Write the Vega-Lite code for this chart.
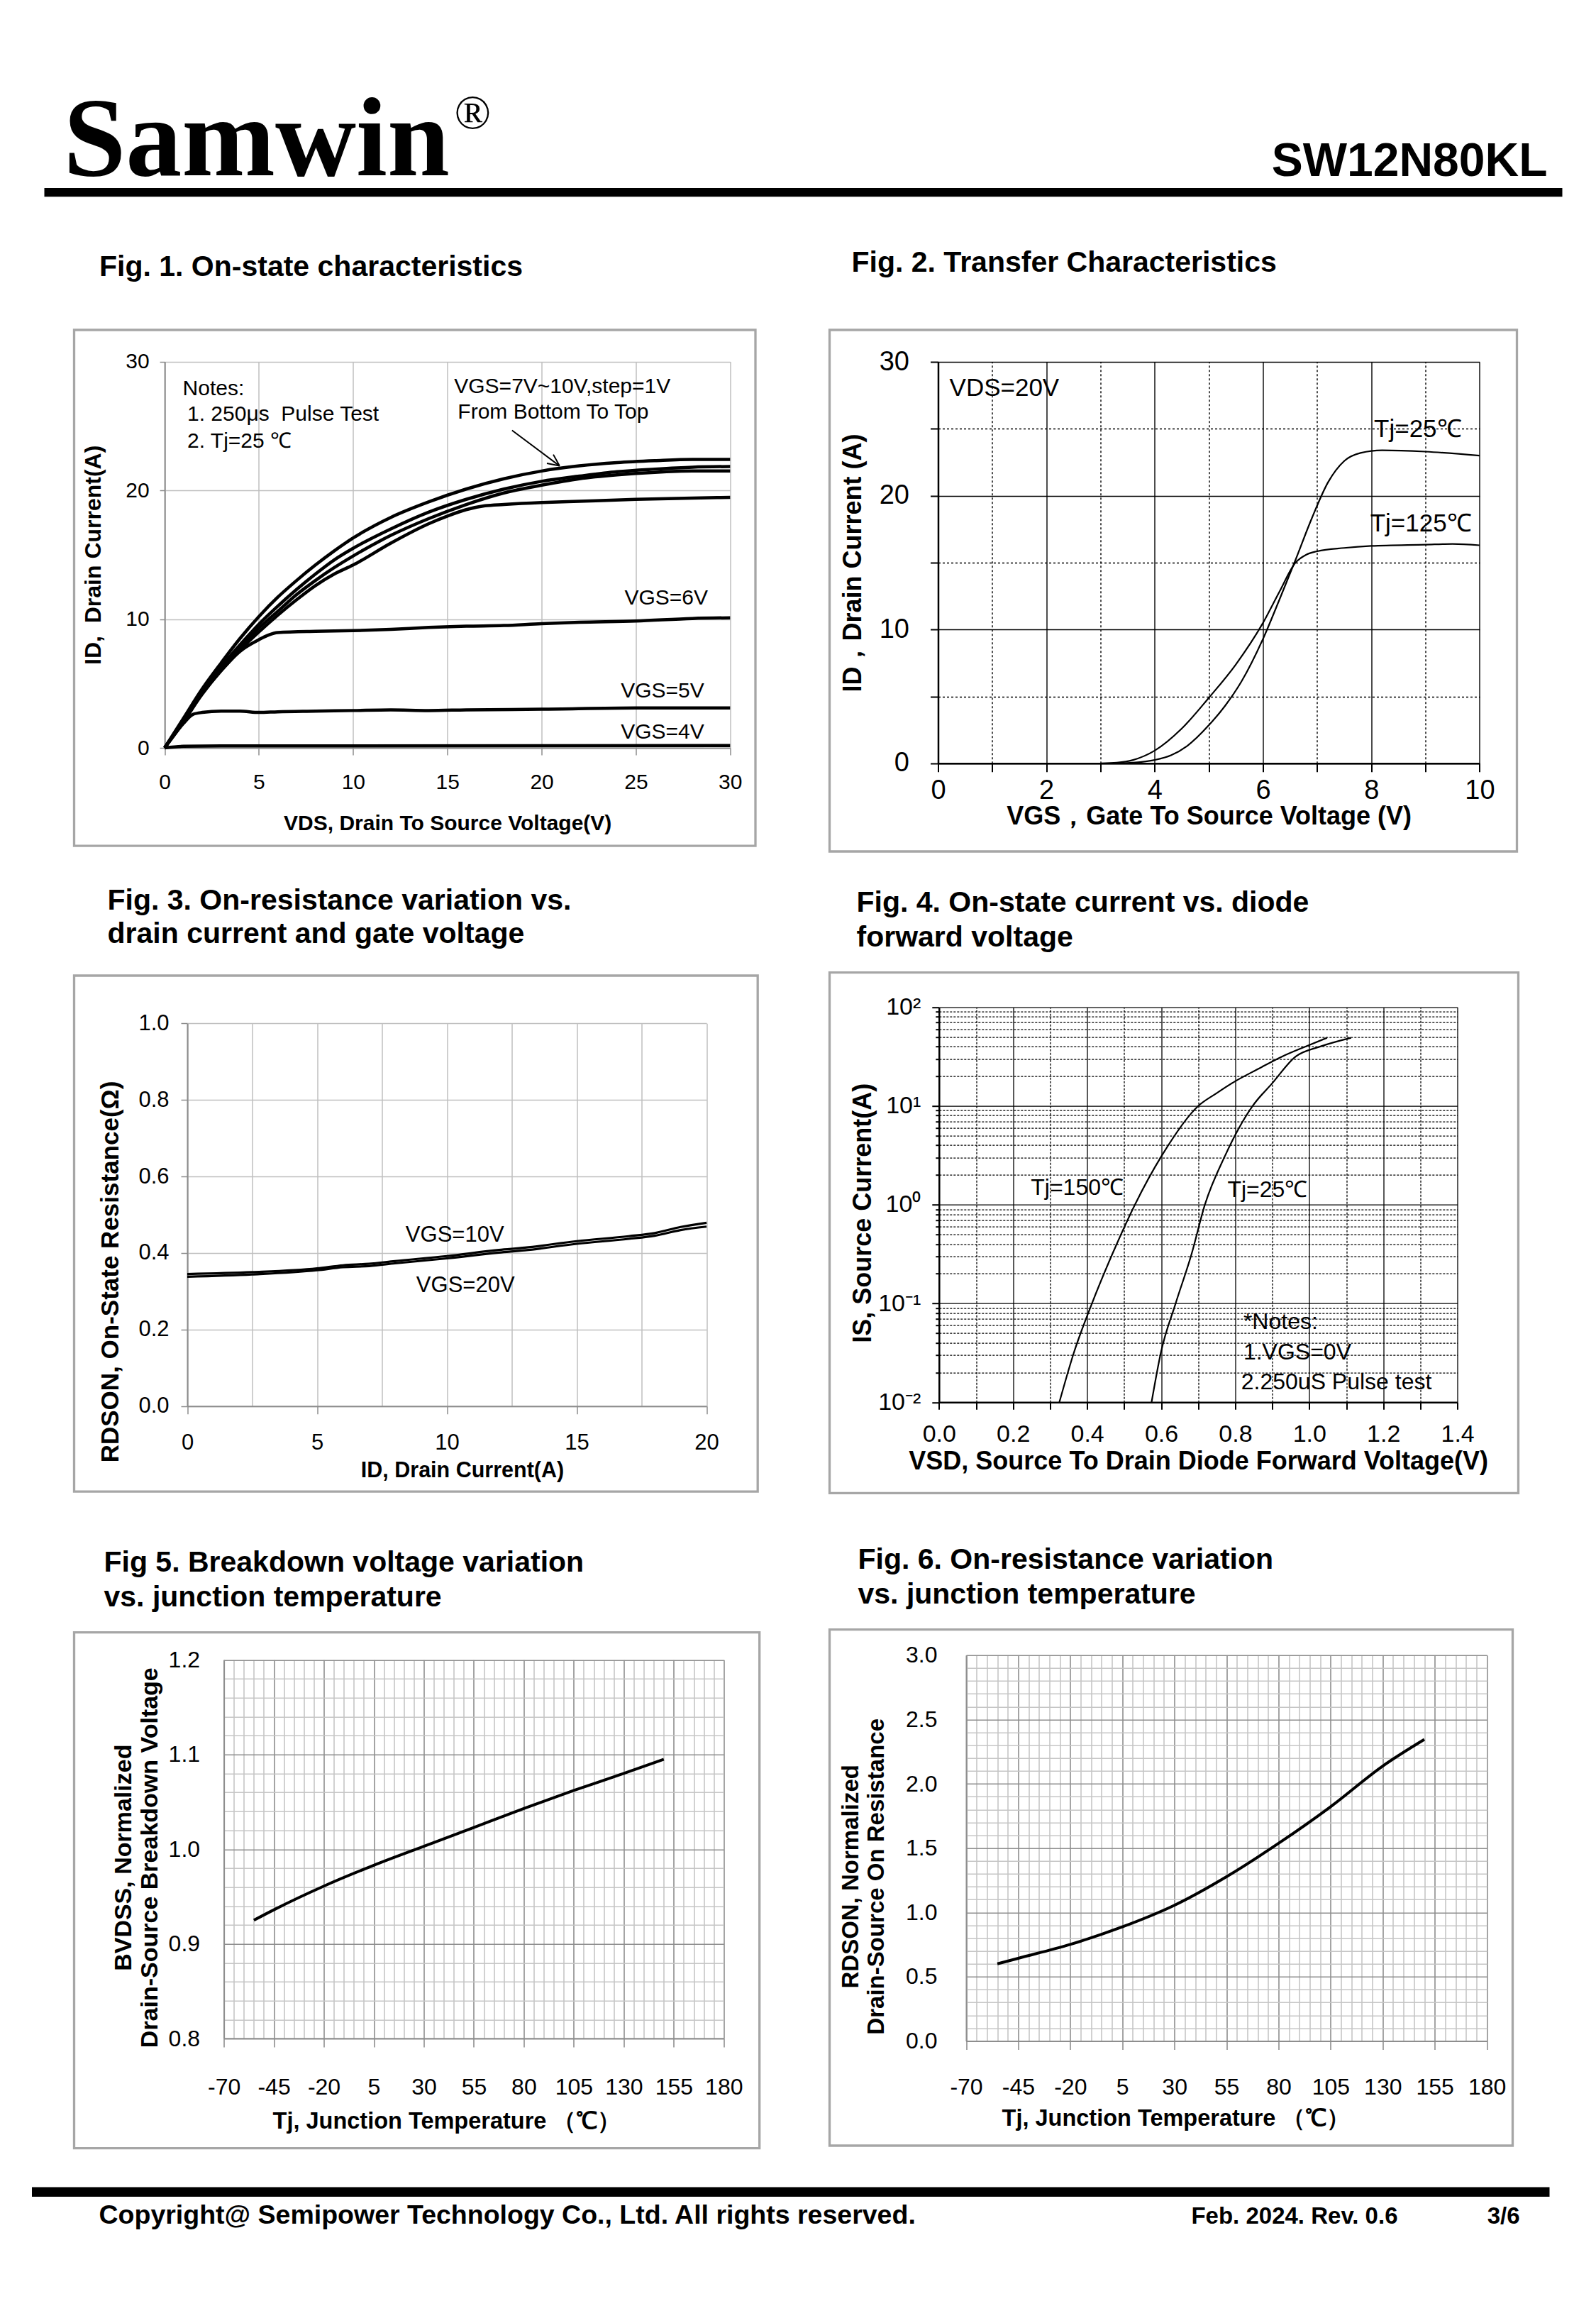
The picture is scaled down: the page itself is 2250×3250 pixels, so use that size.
{
"$schema": "https://vega.github.io/schema/vega-lite/v6.json",
"background": "white",
"padding": {"left": 44.5, "top": 121, "right": 10, "bottom": 10},
"config": {
  "view": {"stroke": null},
  "font": "Liberation Sans",
  "axis": {"labelColor": "black", "titleColor": "black", "labelFont": "Liberation Sans", "titleFont": "Liberation Sans", "labelFlush": false, "labelOverlap": false, "labelBound": false},
  "title": {"font": "Liberation Sans", "fontSize": 41, "fontWeight": "bold", "color": "black", "anchor": "start", "frame": "group", "baseline": "bottom"},
  "text": {"font": "Liberation Sans", "color": "black"}
},
"spacing": 52.6,
"align": "none",
"vconcat": [
{
  "spacing": 69, "align": "none",
  "vconcat": [
  {
    "width": 2098, "height": 12.3,
    "layer": [
      {"data": {"values": [{}]}, "mark": {"type": "rect", "color": "black"},
       "encoding": {"x": {"datum": 0, "type": "quantitative", "scale": {"domain": [0, 1], "nice": false, "range": [-42, 2098]}, "axis": null}, "x2": {"datum": 1},
                    "y": {"datum": 0, "type": "quantitative", "scale": {"domain": [0, 1], "nice": false, "range": [12.3, 0]}, "axis": null}, "y2": {"datum": 1}}},
      {"data": {"values": [{"t": "Samwin"}]}, "mark": {"type": "text", "font": "Liberation Serif", "fontWeight": "bold", "fontSize": 158, "align": "left", "baseline": "alphabetic", "dx": 27, "dy": -18},
       "encoding": {"x": {"datum": 0, "type": "quantitative", "scale": {"domain": [0, 1], "nice": false, "range": [-42, 2098]}, "axis": null},
                    "y": {"datum": 1, "type": "quantitative", "scale": {"domain": [0, 1], "nice": false, "range": [12.3, 0]}, "axis": null}, "text": {"field": "t"}}},
      {"data": {"values": [{"t": "®"}]}, "mark": {"type": "text", "font": "Liberation Serif", "fontSize": 68, "align": "left", "baseline": "alphabetic", "dx": 578, "dy": -84},
       "encoding": {"x": {"datum": 0, "type": "quantitative", "scale": {"domain": [0, 1], "nice": false, "range": [-42, 2098]}, "axis": null},
                    "y": {"datum": 1, "type": "quantitative", "scale": {"domain": [0, 1], "nice": false, "range": [12.3, 0]}, "axis": null}, "text": {"field": "t"}}},
      {"data": {"values": [{"t": "SW12N80KL"}]}, "mark": {"type": "text", "font": "Liberation Sans", "fontWeight": "bold", "fontSize": 66, "align": "right", "baseline": "alphabetic", "dx": -21, "dy": -17},
       "encoding": {"x": {"datum": 1, "type": "quantitative", "scale": {"domain": [0, 1], "nice": false, "range": [-42, 2098]}, "axis": null},
                    "y": {"datum": 1, "type": "quantitative", "scale": {"domain": [0, 1], "nice": false, "range": [12.3, 0]}, "axis": null}, "text": {"field": "t"}}}
    ]
  },
  {
    "spacing": 95, "align": "none",
    "hconcat": [
    {
      "spacing": 75.7, "align": "none",
      "vconcat": [
      {
        "spacing": 53, "align": "none",
        "vconcat": [
        {
          "width": 960.5, "height": 727.1,
          "view": {"stroke": "#a6a6a6", "strokeWidth": 3.3},
          "title": {"text": "Fig. 1. On-state characteristics", "dx": 35.5, "offset": 67},
          "resolve": {"axis": {"x": "independent", "y": "independent"}},
          "layer": [
            {"data": {"values": [
              {"x":0,"y":0,"s":"10V"},{"x":1,"y":2.3,"s":"10V"},{"x":2,"y":4.6,"s":"10V"},{"x":3,"y":6.6,"s":"10V"},{"x":4,"y":8.5,"s":"10V"},{"x":5,"y":10.2,"s":"10V"},{"x":6,"y":11.7,"s":"10V"},{"x":7,"y":13.0,"s":"10V"},{"x":8,"y":14.2,"s":"10V"},{"x":9,"y":15.3,"s":"10V"},{"x":10,"y":16.3,"s":"10V"},{"x":12,"y":17.9,"s":"10V"},{"x":14,"y":19.1,"s":"10V"},{"x":16,"y":20.1,"s":"10V"},{"x":18,"y":20.9,"s":"10V"},{"x":20,"y":21.5,"s":"10V"},{"x":22,"y":21.9,"s":"10V"},{"x":24,"y":22.15,"s":"10V"},{"x":26,"y":22.3,"s":"10V"},{"x":28,"y":22.4,"s":"10V"},{"x":30,"y":22.4,"s":"10V"},
              {"x":0,"y":0,"s":"9V"},{"x":1,"y":2.2,"s":"9V"},{"x":2,"y":4.4,"s":"9V"},{"x":3,"y":6.3,"s":"9V"},{"x":4,"y":8.0,"s":"9V"},{"x":5,"y":9.6,"s":"9V"},{"x":6,"y":11.0,"s":"9V"},{"x":7,"y":12.3,"s":"9V"},{"x":8,"y":13.5,"s":"9V"},{"x":9,"y":14.6,"s":"9V"},{"x":10,"y":15.5,"s":"9V"},{"x":12,"y":17.0,"s":"9V"},{"x":14,"y":18.3,"s":"9V"},{"x":16,"y":19.3,"s":"9V"},{"x":18,"y":20.1,"s":"9V"},{"x":20,"y":20.7,"s":"9V"},{"x":22,"y":21.1,"s":"9V"},{"x":24,"y":21.45,"s":"9V"},{"x":26,"y":21.65,"s":"9V"},{"x":28,"y":21.8,"s":"9V"},{"x":30,"y":21.85,"s":"9V"},
              {"x":0,"y":0,"s":"8V"},{"x":1,"y":2.1,"s":"8V"},{"x":2,"y":4.3,"s":"8V"},{"x":3,"y":6.1,"s":"8V"},{"x":4,"y":7.8,"s":"8V"},{"x":5,"y":9.3,"s":"8V"},{"x":6,"y":10.6,"s":"8V"},{"x":7,"y":11.9,"s":"8V"},{"x":8,"y":13.0,"s":"8V"},{"x":9,"y":14.0,"s":"8V"},{"x":10,"y":14.9,"s":"8V"},{"x":12,"y":16.5,"s":"8V"},{"x":14,"y":17.8,"s":"8V"},{"x":16,"y":18.9,"s":"8V"},{"x":18,"y":19.8,"s":"8V"},{"x":20,"y":20.4,"s":"8V"},{"x":22,"y":20.9,"s":"8V"},{"x":24,"y":21.2,"s":"8V"},{"x":26,"y":21.4,"s":"8V"},{"x":28,"y":21.5,"s":"8V"},{"x":30,"y":21.5,"s":"8V"},
              {"x":0,"y":0,"s":"7V"},{"x":1,"y":2.0,"s":"7V"},{"x":2,"y":4.2,"s":"7V"},{"x":3,"y":6.0,"s":"7V"},{"x":4,"y":7.6,"s":"7V"},{"x":5,"y":9.0,"s":"7V"},{"x":6,"y":10.3,"s":"7V"},{"x":7,"y":11.5,"s":"7V"},{"x":8,"y":12.6,"s":"7V"},{"x":9,"y":13.5,"s":"7V"},{"x":10,"y":14.2,"s":"7V"},{"x":12,"y":15.9,"s":"7V"},{"x":14,"y":17.4,"s":"7V"},{"x":15,"y":18.0,"s":"7V"},{"x":16,"y":18.5,"s":"7V"},{"x":17,"y":18.8,"s":"7V"},{"x":18,"y":18.9,"s":"7V"},{"x":20,"y":19.05,"s":"7V"},{"x":22,"y":19.15,"s":"7V"},{"x":25,"y":19.3,"s":"7V"},{"x":28,"y":19.4,"s":"7V"},{"x":30,"y":19.45,"s":"7V"},
              {"x":0,"y":0,"s":"6V"},{"x":1,"y":2.1,"s":"6V"},{"x":2,"y":4.2,"s":"6V"},{"x":3,"y":6.0,"s":"6V"},{"x":4,"y":7.5,"s":"6V"},{"x":5,"y":8.4,"s":"6V"},{"x":5.5,"y":8.75,"s":"6V"},{"x":6,"y":8.95,"s":"6V"},{"x":8,"y":9.05,"s":"6V"},{"x":10,"y":9.1,"s":"6V"},{"x":12,"y":9.2,"s":"6V"},{"x":14,"y":9.35,"s":"6V"},{"x":16,"y":9.45,"s":"6V"},{"x":18,"y":9.5,"s":"6V"},{"x":20,"y":9.65,"s":"6V"},{"x":22,"y":9.75,"s":"6V"},{"x":25,"y":9.85,"s":"6V"},{"x":28,"y":10.05,"s":"6V"},{"x":30,"y":10.1,"s":"6V"},
              {"x":0,"y":0,"s":"5V"},{"x":0.5,"y":1.0,"s":"5V"},{"x":1,"y":1.9,"s":"5V"},{"x":1.5,"y":2.6,"s":"5V"},{"x":2,"y":2.75,"s":"5V"},{"x":3,"y":2.85,"s":"5V"},{"x":4,"y":2.85,"s":"5V"},{"x":5,"y":2.75,"s":"5V"},{"x":6,"y":2.8,"s":"5V"},{"x":8,"y":2.85,"s":"5V"},{"x":10,"y":2.9,"s":"5V"},{"x":12,"y":2.95,"s":"5V"},{"x":14,"y":2.9,"s":"5V"},{"x":16,"y":2.95,"s":"5V"},{"x":20,"y":3.0,"s":"5V"},{"x":25,"y":3.1,"s":"5V"},{"x":30,"y":3.1,"s":"5V"},
              {"x":0,"y":0,"s":"4V"},{"x":1,"y":0.12,"s":"4V"},{"x":3,"y":0.15,"s":"4V"},{"x":10,"y":0.15,"s":"4V"},{"x":20,"y":0.16,"s":"4V"},{"x":30,"y":0.18,"s":"4V"}
             ]},
             "mark": {"type": "line", "color": "black", "strokeWidth": 4.5, "interpolate": "monotone"},
             "encoding": {
               "x": {"field": "x", "type": "quantitative", "scale": {"domain": [0, 30], "nice": false, "range": [127.6, 924.8]},
                     "axis": {"offset": -138.1, "values": [0,5,10,15,20,25,30], "grid": false, "domainColor": "#8c8c8c", "domainWidth": 2, "tickColor": "#8c8c8c", "tickWidth": 1.5, "tickSize": 10, "labelFontSize": 30, "labelPadding": 23,
                              "title": "VDS, Drain To Source Voltage(V)", "titleFontSize": 30, "titleFontWeight": "bold", "titlePadding": 28.6}},
               "y": {"field": "y", "type": "quantitative", "scale": {"domain": [0, 30], "nice": false, "range": [589.0, 44.6]},
                     "axis": {"offset": -127.6, "values": [0,10,20,30], "grid": true, "gridColor": "#bfbfbf", "gridWidth": 1.5, "domainColor": "#8c8c8c", "domainWidth": 2, "tickColor": "#8c8c8c", "tickWidth": 1.5, "tickSize": 7, "labelFontSize": 30, "labelPadding": 15,
                              "title": "ID,\u00a0 Drain Current(A)", "titleFontSize": 32, "titleFontWeight": "bold", "titlePadding": 28}},
               "detail": {"field": "s"}}},
            {"data": {"values": [
              {"x":18.43,"y":24.66,"s":"a"},{"x":20.95,"y":21.9,"s":"a"},
              {"x":20.62,"y":22.78,"s":"b"},{"x":20.95,"y":21.9,"s":"b"},
              {"x":20.28,"y":22.10,"s":"c"},{"x":20.95,"y":21.9,"s":"c"}
             ]},
             "mark": {"type": "line", "color": "black", "strokeWidth": 2},
             "encoding": {"x": {"field": "x", "type": "quantitative", "scale": {"domain": [0, 30], "nice": false, "range": [127.6, 924.8]}, "axis": null},
                          "y": {"field": "y", "type": "quantitative", "scale": {"domain": [0, 30], "nice": false, "range": [589.0, 44.6]}, "axis": null},
                          "detail": {"field": "s"}}},
            {"data": {"values": [
              {"x":0.96,"y":27.9,"t":"Notes:"},
              {"x":1.2,"y":25.9,"t":"1. 250μs\u00a0 Pulse Test"},
              {"x":1.2,"y":23.8,"t":"2. Tj=25 ℃"},
              {"x":15.36,"y":28.05,"t":"VGS=7V~10V,step=1V"},
              {"x":15.55,"y":26.05,"t":"From Bottom To Top"},
              {"x":24.4,"y":11.6,"t":"VGS=6V"},
              {"x":24.2,"y":4.4,"t":"VGS=5V"},
              {"x":24.2,"y":1.2,"t":"VGS=4V"}
             ]},
             "mark": {"type": "text", "align": "left", "baseline": "middle", "fontSize": 30},
             "encoding": {"x": {"field": "x", "type": "quantitative", "scale": {"domain": [0, 30], "nice": false, "range": [127.6, 924.8]},
                                "axis": {"orient": "top", "offset": -44.6, "values": [0,5,10,15,20,25,30], "grid": true, "gridColor": "#bfbfbf", "gridWidth": 1.5, "labels": false, "ticks": false, "domain": false, "title": null}},
                          "y": {"field": "y", "type": "quantitative", "scale": {"domain": [0, 30], "nice": false, "range": [589.0, 44.6]}, "axis": null},
                          "text": {"field": "t"}}}
          ]
        },
        {
          "width": 963.7, "height": 727.2,
          "view": {"stroke": "#a6a6a6", "strokeWidth": 3.3},
          "title": {"text": ["Fig. 3. On-resistance variation vs.", "\u00a0\u00a0\u00a0\u00a0\u00a0\u00a0\u00a0\u00a0\u00a0\u00a0\u00a0\u00a0\u00a0\u00a0drain current and gate voltage"], "lineHeight": 47, "dx": 47, "offset": 37},
          "resolve": {"axis": {"x": "independent", "y": "independent"}},
          "layer": [
            {"data": {"values": [
              {"x":0,"y":0.345,"s":"10V"},{"x":2.5,"y":0.350,"s":"10V"},{"x":5,"y":0.360,"s":"10V"},{"x":6,"y":0.368,"s":"10V"},{"x":7,"y":0.372,"s":"10V"},{"x":8,"y":0.379,"s":"10V"},{"x":10,"y":0.392,"s":"10V"},{"x":12,"y":0.408,"s":"10V"},{"x":13,"y":0.414,"s":"10V"},{"x":15,"y":0.431,"s":"10V"},{"x":17,"y":0.444,"s":"10V"},{"x":18,"y":0.452,"s":"10V"},{"x":19,"y":0.468,"s":"10V"},{"x":20,"y":0.479,"s":"10V"},
              {"x":0,"y":0.338,"s":"20V"},{"x":2.5,"y":0.344,"s":"20V"},{"x":5,"y":0.355,"s":"20V"},{"x":6,"y":0.363,"s":"20V"},{"x":7,"y":0.366,"s":"20V"},{"x":8,"y":0.373,"s":"20V"},{"x":10,"y":0.386,"s":"20V"},{"x":12,"y":0.401,"s":"20V"},{"x":13,"y":0.407,"s":"20V"},{"x":15,"y":0.424,"s":"20V"},{"x":17,"y":0.437,"s":"20V"},{"x":18,"y":0.445,"s":"20V"},{"x":19,"y":0.460,"s":"20V"},{"x":20,"y":0.469,"s":"20V"}
             ]},
             "mark": {"type": "line", "color": "black", "strokeWidth": 3.2, "interpolate": "monotone"},
             "encoding": {
               "x": {"field": "x", "type": "quantitative", "scale": {"domain": [0, 20], "nice": false, "range": [159.5, 891.6]},
                     "axis": {"offset": -120.4, "values": [0,5,10,15,20], "grid": false, "domainColor": "#8c8c8c", "domainWidth": 2, "tickColor": "#8c8c8c", "tickWidth": 1.5, "tickSize": 11,
                              "labelFontSize": 31, "labelPadding": 26,
                              "title": "ID, Drain Current(A)", "titleFontSize": 30.5, "titleFontWeight": "bold", "titlePadding": 9, "titleX": 547}},
               "y": {"field": "y", "type": "quantitative", "scale": {"domain": [0, 1], "nice": false, "range": [606.8, 67.2]},
                     "axis": {"offset": -159.5, "values": [0,0.2,0.4,0.6,0.8,1.0], "format": ".1f", "grid": true, "gridColor": "#bfbfbf", "gridWidth": 1.5, "domainColor": "#8c8c8c", "domainWidth": 2, "tickColor": "#8c8c8c", "tickWidth": 1.5, "tickSize": 9, "labelFontSize": 31, "labelPadding": 17,
                              "title": "RDSON, On-State Resistance(Ω)", "titleFontSize": 35, "titleFontWeight": "bold", "titlePadding": 21, "titleY": 417}},
               "detail": {"field": "s"}}},
            {"data": {"values": [
              {"x":8.41,"y":0.447,"t":"VGS=10V"},
              {"x":8.82,"y":0.314,"t":"VGS=20V"}
             ]},
             "mark": {"type": "text", "align": "left", "baseline": "middle", "fontSize": 31},
             "encoding": {"x": {"field": "x", "type": "quantitative", "scale": {"domain": [0, 20], "nice": false, "range": [159.5, 891.6]},
                                "axis": {"orient": "top", "offset": -67.2, "values": [0,2.5,5,7.5,10,12.5,15,17.5,20], "grid": true, "gridColor": "#bfbfbf", "gridWidth": 1.5, "labels": false, "ticks": false, "domain": false, "title": null}},
                          "y": {"field": "y", "type": "quantitative", "scale": {"domain": [0, 1], "nice": false, "range": [606.8, 67.2]}, "axis": null},
                          "text": {"field": "t"}}}
          ]
        }
        ]
      },
      {
        "width": 966.2, "height": 727,
        "view": {"stroke": "#a6a6a6", "strokeWidth": 3.3},
        "title": {"text": ["Fig 5. Breakdown voltage variation", "\u00a0\u00a0\u00a0\u00a0\u00a0\u00a0\u00a0\u00a0\u00a0\u00a0vs. junction temperature"], "lineHeight": 49, "dx": 42, "offset": 28},
        "resolve": {"axis": {"x": "independent", "y": "independent"}},
        "layer": [
          {"data": {"values": [
            {"x":-55,"y":0.925},{"x":-45,"y":0.936},{"x":-20,"y":0.961},{"x":5,"y":0.983},{"x":30,"y":1.003},{"x":55,"y":1.023},{"x":80,"y":1.043},{"x":105,"y":1.062},{"x":130,"y":1.080},{"x":150,"y":1.095}
           ]},
           "mark": {"type": "line", "color": "black", "strokeWidth": 4, "interpolate": "monotone"},
           "encoding": {
             "x": {"field": "x", "type": "quantitative", "scale": {"domain": [-70, 180], "nice": false, "range": [211.1, 915.8]},
                   "axis": {"offset": -154.6, "values": [-70,-45,-20,5,30,55,80,105,130,155,180],
                            "labelExpr": "'' + datum.value",
                            "grid": false,
                            "domainColor": "#8e8e8e", "domainWidth": 2, "tickColor": "#8e8e8e", "tickWidth": 1.6, "tickSize": 12,
                            "labelFontSize": 32, "labelPadding": 41,
                            "title": "Tj, Junction Temperature （℃）", "titleFontSize": 32.5, "titleFontWeight": "bold", "titlePadding": 16, "titleX": 525}},
             "y": {"field": "y", "type": "quantitative", "scale": {"domain": [0.8, 1.2], "nice": false, "zero": false, "range": [572.4, 38.6]},
                   "axis": {"offset": -211.1, "values": [0.8,0.82,0.84,0.86,0.88,0.9,0.92,0.94,0.96,0.98,1.0,1.02,1.04,1.06,1.08,1.1,1.12,1.14,1.16,1.18,1.2],
                            "labelExpr": "abs(datum.value*10 - round(datum.value*10)) < 0.001 ? format(datum.value, '.1f') : ''",
                            "grid": true, "gridWidth": 1.6,
                            "gridColor": {"condition": {"test": "abs(datum.value*10 - round(datum.value*10)) < 0.001", "value": "#8e8e8e"}, "value": "#c6c6c6"},
                            "domainColor": "#8e8e8e", "domainWidth": 2, "ticks": false, "tickSize": 0,
                            "labelFontSize": 32, "labelPadding": 34,
                            "title": ["BVDSS, Normalized", "Drain-Source Breakdown Voltage"], "titleLineHeight": 37, "titleFontSize": 34, "titleFontWeight": "bold", "titlePadding": 9, "titleY": 317}}}},
          {"data": {"values": [
            {"x":-55,"y":0.925},{"x":150,"y":1.095}
           ]},
           "mark": {"type": "line", "opacity": 0},
           "encoding": {
             "x": {"field": "x", "type": "quantitative", "scale": {"domain": [-70, 180], "nice": false, "range": [211.1, 915.8]},
                   "axis": {"orient": "top", "offset": -38.6, "values": [-70,-65,-60,-55,-50,-45,-40,-35,-30,-25,-20,-15,-10,-5,0,5,10,15,20,25,30,35,40,45,50,55,60,65,70,75,80,85,90,95,100,105,110,115,120,125,130,135,140,145,150,155,160,165,170,175,180],
                            "grid": true, "gridWidth": 1.6,
                            "gridColor": {"condition": {"test": "(datum.value + 70) % 25 == 0", "value": "#8e8e8e"}, "value": "#c6c6c6"},
                            "labels": false, "ticks": false, "domain": false, "title": null}},
             "y": {"field": "y", "type": "quantitative", "scale": {"domain": [0.8, 1.2], "nice": false, "zero": false, "range": [572.4, 38.6]}, "axis": null}}}
        ]
      }
      ]
    },
    {
      "spacing": 69.7, "align": "none",
      "vconcat": [
      {
        "spacing": 47.7, "align": "none",
        "vconcat": [
        {
          "width": 969, "height": 735,
          "view": {"stroke": "#a6a6a6", "strokeWidth": 3.3},
          "title": {"text": "Fig. 2. Transfer Characteristics", "dx": 31, "offset": 73},
          "resolve": {"axis": {"x": "independent", "y": "independent"}},
          "layer": [
            {"data": {"values": [
              {"x":3.3,"y":0,"s":"25"},{"x":3.6,"y":0.05,"s":"25"},{"x":4,"y":0.25,"s":"25"},{"x":4.3,"y":0.6,"s":"25"},{"x":4.6,"y":1.3,"s":"25"},{"x":5,"y":2.85,"s":"25"},{"x":5.3,"y":4.3,"s":"25"},{"x":5.6,"y":6.1,"s":"25"},{"x":6,"y":9.3,"s":"25"},{"x":6.3,"y":12.2,"s":"25"},{"x":6.6,"y":15.2,"s":"25"},{"x":6.9,"y":18.3,"s":"25"},{"x":7.2,"y":21.0,"s":"25"},{"x":7.5,"y":22.6,"s":"25"},{"x":7.8,"y":23.2,"s":"25"},{"x":8.2,"y":23.4,"s":"25"},{"x":9,"y":23.3,"s":"25"},{"x":10,"y":23.0,"s":"25"},
              {"x":3.0,"y":0,"s":"125"},{"x":3.3,"y":0.05,"s":"125"},{"x":3.6,"y":0.25,"s":"125"},{"x":4,"y":0.95,"s":"125"},{"x":4.5,"y":2.6,"s":"125"},{"x":5,"y":4.9,"s":"125"},{"x":5.5,"y":7.4,"s":"125"},{"x":6,"y":10.5,"s":"125"},{"x":6.3,"y":12.8,"s":"125"},{"x":6.6,"y":15.0,"s":"125"},{"x":6.8,"y":15.6,"s":"125"},{"x":7.0,"y":15.85,"s":"125"},{"x":7.5,"y":16.1,"s":"125"},{"x":8,"y":16.25,"s":"125"},{"x":9,"y":16.35,"s":"125"},{"x":9.5,"y":16.4,"s":"125"},{"x":10,"y":16.3,"s":"125"}
             ]},
             "mark": {"type": "line", "color": "black", "strokeWidth": 2.2, "interpolate": "monotone"},
             "encoding": {
               "x": {"field": "x", "type": "quantitative", "scale": {"domain": [0, 10], "nice": false, "range": [153, 916.4]},
                     "axis": {"offset": -124.2, "values": [0,1,2,3,4,5,6,7,8,9,10], "labelExpr": "datum.value % 2 == 0 ? '' + datum.value : ''",
                              "grid": false,
                              "domainColor": "black", "domainWidth": 2.5, "tickColor": "black", "tickWidth": 2, "tickSize": 12,
                              "labelFontSize": 38, "labelPadding": 8,
                              "title": "VGS，Gate To Source Voltage (V)", "titleFontSize": 36, "titleFontWeight": "bold", "titlePadding": 0}},
               "y": {"field": "y", "type": "quantitative", "scale": {"domain": [0, 30], "nice": false, "range": [610.8, 45.2]},
                     "axis": {"offset": -153, "values": [0,5,10,15,20,25,30], "labelExpr": "datum.value % 10 == 0 ? '' + datum.value : ''",
                              "grid": true, "gridColor": "black", "gridWidth": 1.4,
                              "gridDash": {"condition": {"test": "datum.value % 10 != 0", "value": [3, 3]}, "value": []},
                              "domainColor": "black", "domainWidth": 2.5, "tickColor": "black", "tickWidth": 2, "tickSize": 11,
                              "labelFontSize": 38, "labelPadding": 30,
                              "title": "ID，Drain Current (A)", "titleFontSize": 36, "titleFontWeight": "bold", "titlePadding": 18}},
               "detail": {"field": "s"}}},
            {"data": {"values": [
              {"x":0.21,"y":28.05,"t":"VDS=20V"},
              {"x":8.05,"y":24.96,"t":"Tj=25℃"},
              {"x":7.98,"y":17.94,"t":"Tj=125℃"}
             ]},
             "mark": {"type": "text", "align": "left", "baseline": "middle", "fontSize": 35},
             "encoding": {"x": {"field": "x", "type": "quantitative", "scale": {"domain": [0, 10], "nice": false, "range": [153, 916.4]},
                                "axis": {"orient": "top", "offset": -45.2, "values": [0,1,2,3,4,5,6,7,8,9,10], "grid": true, "gridColor": "black", "gridWidth": 1.4,
                                         "gridDash": {"condition": {"test": "datum.value % 2 == 1", "value": [3, 3]}, "value": []},
                                         "labels": false, "ticks": false, "domain": false, "title": null}},
                          "y": {"field": "y", "type": "quantitative", "scale": {"domain": [0, 30], "nice": false, "range": [610.8, 45.2]}, "axis": null},
                          "text": {"field": "t"}}}
          ]
        },
        {
          "width": 971, "height": 733.6,
          "view": {"stroke": "#a6a6a6", "strokeWidth": 3.3},
          "title": {"text": ["Fig. 4. On-state current vs. diode", "\u00a0\u00a0\u00a0\u00a0\u00a0\u00a0\u00a0\u00a0\u00a0\u00a0\u00a0\u00a0forward voltage"], "lineHeight": 49, "dx": 38, "offset": 28},
          "resolve": {"axis": {"x": "independent", "y": "independent"}},
          "layer": [
            {"data": {"values": [
              {"x":0.325,"y":0.01,"s":"150"},{"x":0.364,"y":0.0316,"s":"150"},{"x":0.413,"y":0.1,"s":"150"},{"x":0.468,"y":0.316,"s":"150"},{"x":0.529,"y":1.0,"s":"150"},{"x":0.602,"y":3.16,"s":"150"},{"x":0.70,"y":10,"s":"150"},{"x":0.75,"y":13.5,"s":"150"},{"x":0.80,"y":17.8,"s":"150"},{"x":0.86,"y":23.5,"s":"150"},{"x":0.926,"y":31.6,"s":"150"},{"x":0.99,"y":40,"s":"150"},{"x":1.048,"y":49,"s":"150"},
              {"x":0.574,"y":0.01,"s":"25"},{"x":0.599,"y":0.0316,"s":"25"},{"x":0.639,"y":0.1,"s":"25"},{"x":0.682,"y":0.316,"s":"25"},{"x":0.718,"y":1,"s":"25"},{"x":0.773,"y":3.16,"s":"25"},{"x":0.847,"y":10,"s":"25"},{"x":0.90,"y":17,"s":"25"},{"x":0.963,"y":31.6,"s":"25"},{"x":1.03,"y":40,"s":"25"},{"x":1.113,"y":49,"s":"25"}
             ]},
             "mark": {"type": "line", "color": "black", "strokeWidth": 2.2, "interpolate": "monotone"},
             "encoding": {
               "x": {"field": "x", "type": "quantitative", "scale": {"domain": [0, 1.4], "nice": false, "range": [154.3, 885.1]},
                     "axis": {"offset": -128, "values": [0,0.1,0.2,0.3,0.4,0.5,0.6,0.7,0.8,0.9,1.0,1.1,1.2,1.3,1.4],
                              "labelExpr": "round(datum.value*10) % 2 == 0 ? format(datum.value, '.1f') : ''",
                              "grid": false,
                              "domainColor": "black", "domainWidth": 2.5, "tickColor": "black", "tickWidth": 2, "tickSize": 10,
                              "labelFontSize": 34, "labelPadding": 18,
                              "title": "VSD, Source To Drain Diode Forward Voltage(V)", "titleFontSize": 36, "titleFontWeight": "bold", "titlePadding": 4}},
               "y": {"field": "y", "type": "quantitative", "scale": {"type": "log", "domain": [0.01, 100], "nice": false, "range": [605.6, 48.8]},
                     "axis": {"offset": -154.3, "values": [0.01,0.02,0.03,0.04,0.05,0.06,0.07,0.08,0.09,0.1,0.2,0.3,0.4,0.5,0.6,0.7,0.8,0.9,1,2,3,4,5,6,7,8,9,10,20,30,40,50,60,70,80,90,100],
                              "labelExpr": "datum.value == 100 ? '10\u00b2' : datum.value == 10 ? '10\u00b9' : datum.value == 1 ? '10\u2070' : datum.value == 0.1 ? '10\u207b\u00b9' : datum.value == 0.01 ? '10\u207b\u00b2' : ''",
                              "grid": true, "gridColor": "black", "gridWidth": 1.3,
                              "gridDash": {"condition": {"test": "datum.value == 100 || datum.value == 10 || datum.value == 1 || datum.value == 0.1 || datum.value == 0.01", "value": []}, "value": [3, 2]},
                              "domainColor": "black", "domainWidth": 2.5, "tickColor": "black", "tickWidth": 2,
                              "tickSize": {"condition": {"test": "datum.value == 100 || datum.value == 10 || datum.value == 1 || datum.value == 0.1 || datum.value == 0.01", "value": 10}, "value": 5},
                              "labelFontSize": 34, "labelPadding": 16,
                              "title": "IS, Source Current(A)", "titleFontSize": 36, "titleFontWeight": "bold", "titlePadding": 2, "titleY": 338.6}},
               "detail": {"field": "s"}}},
            {"data": {"values": [
              {"x":0.248,"y":1.49,"t":"Tj=150℃"},
              {"x":0.779,"y":1.42,"t":"Tj=25℃"},
              {"x":0.822,"y":0.0649,"t":"*Notes:"},
              {"x":0.822,"y":0.0318,"t":"1.VGS=0V"},
              {"x":0.816,"y":0.0159,"t":"2.250uS Pulse test"}
             ]},
             "mark": {"type": "text", "align": "left", "baseline": "middle", "fontSize": 32},
             "encoding": {"x": {"field": "x", "type": "quantitative", "scale": {"domain": [0, 1.4], "nice": false, "range": [154.3, 885.1]},
                                "axis": {"orient": "top", "offset": -48.8, "values": [0,0.1,0.2,0.3,0.4,0.5,0.6,0.7,0.8,0.9,1.0,1.1,1.2,1.3,1.4], "grid": true, "gridColor": "black", "gridWidth": 1.3,
                                         "gridDash": {"condition": {"test": "round(datum.value*10) % 2 == 1", "value": [3, 2]}, "value": []},
                                         "labels": false, "ticks": false, "domain": false, "title": null}},
                          "y": {"field": "y", "type": "quantitative", "scale": {"type": "log", "domain": [0.01, 100], "nice": false, "range": [605.6, 48.8]}, "axis": null},
                          "text": {"field": "t"}}}
          ]
        }
        ]
      },
      {
        "width": 963, "height": 727.3,
        "view": {"stroke": "#a6a6a6", "strokeWidth": 3.3},
        "title": {"text": ["Fig. 6. On-resistance variation", "\u00a0\u00a0\u00a0\u00a0\u00a0\u00a0\u00a0\u00a0\u00a0\u00a0\u00a0vs. junction temperature"], "lineHeight": 49, "dx": 40, "offset": 27.6},
        "resolve": {"axis": {"x": "independent", "y": "independent"}},
        "layer": [
          {"data": {"values": [
            {"x":-55,"y":0.60},{"x":-45,"y":0.643},{"x":-20,"y":0.751},{"x":5,"y":0.887},{"x":30,"y":1.055},{"x":55,"y":1.277},{"x":80,"y":1.537},{"x":105,"y":1.822},{"x":130,"y":2.138},{"x":150,"y":2.345}
           ]},
           "mark": {"type": "line", "color": "black", "strokeWidth": 4, "interpolate": "monotone"},
           "encoding": {
             "x": {"field": "x", "type": "quantitative", "scale": {"domain": [-70, 180], "nice": false, "range": [192.5, 926.6]},
                   "axis": {"offset": -147.5, "values": [-70,-45,-20,5,30,55,80,105,130,155,180],
                            "labelExpr": "'' + datum.value",
                            "grid": false,
                            "domainColor": "#8e8e8e", "domainWidth": 2, "tickColor": "#8e8e8e", "tickWidth": 1.6, "tickSize": 12,
                            "labelFontSize": 32, "labelPadding": 38,
                            "title": "Tj, Junction Temperature （℃）", "titleFontSize": 32.5, "titleFontWeight": "bold", "titlePadding": 12, "titleX": 488}},
             "y": {"field": "y", "type": "quantitative", "scale": {"domain": [0, 3], "nice": false, "range": [579.8, 36.1]},
                   "axis": {"offset": -192.5, "values": [0,0.1,0.2,0.3,0.4,0.5,0.6,0.7,0.8,0.9,1.0,1.1,1.2,1.3,1.4,1.5,1.6,1.7,1.8,1.9,2.0,2.1,2.2,2.3,2.4,2.5,2.6,2.7,2.8,2.9,3.0],
                            "labelExpr": "abs(datum.value*2 - round(datum.value*2)) < 0.001 ? format(datum.value, '.1f') : ''",
                            "grid": true, "gridWidth": 1.6,
                            "gridColor": {"condition": {"test": "abs(datum.value*2 - round(datum.value*2)) < 0.001", "value": "#8e8e8e"}, "value": "#c6c6c6"},
                            "domainColor": "#8e8e8e", "domainWidth": 2, "ticks": false, "tickSize": 0,
                            "labelFontSize": 32, "labelPadding": 41,
                            "title": ["RDSON, Normalized", "Drain-Source On Resistance"], "titleLineHeight": 36, "titleFontSize": 33, "titleFontWeight": "bold", "titlePadding": 24, "titleY": 347.6}}}},
          {"data": {"values": [
            {"x":-55,"y":0.60},{"x":150,"y":2.345}
           ]},
           "mark": {"type": "line", "opacity": 0},
           "encoding": {
             "x": {"field": "x", "type": "quantitative", "scale": {"domain": [-70, 180], "nice": false, "range": [192.5, 926.6]},
                   "axis": {"orient": "top", "offset": -36.1, "values": [-70,-65,-60,-55,-50,-45,-40,-35,-30,-25,-20,-15,-10,-5,0,5,10,15,20,25,30,35,40,45,50,55,60,65,70,75,80,85,90,95,100,105,110,115,120,125,130,135,140,145,150,155,160,165,170,175,180],
                            "grid": true, "gridWidth": 1.6,
                            "gridColor": {"condition": {"test": "(datum.value + 70) % 25 == 0", "value": "#8e8e8e"}, "value": "#c6c6c6"},
                            "labels": false, "ticks": false, "domain": false, "title": null}},
             "y": {"field": "y", "type": "quantitative", "scale": {"domain": [0, 3], "nice": false, "range": [579.8, 36.1]}, "axis": null}}}
        ]
      }
      ]
    }
    ]
  }
  ]
},
{
  "width": 2080, "height": 13.5,
  "layer": [
    {"data": {"values": [{}]}, "mark": {"type": "rect", "color": "black"},
     "encoding": {"x": {"datum": 0, "type": "quantitative", "scale": {"domain": [0, 1], "nice": false, "range": [-59.5, 2080]}, "axis": null}, "x2": {"datum": 1},
                  "y": {"datum": 0, "type": "quantitative", "scale": {"domain": [0, 1], "nice": false, "range": [13.5, 0]}, "axis": null}, "y2": {"datum": 1}}},
    {"data": {"values": [{"t": "Copyright@ Semipower Technology Co., Ltd. All rights reserved."}]}, "mark": {"type": "text", "fontWeight": "bold", "fontSize": 37.5, "align": "left", "baseline": "alphabetic", "dx": 94.5, "dy": 38},
     "encoding": {"x": {"datum": 0, "type": "quantitative", "scale": {"domain": [0, 1], "nice": false, "range": [-59.5, 2080]}, "axis": null},
                  "y": {"datum": 0, "type": "quantitative", "scale": {"domain": [0, 1], "nice": false, "range": [13.5, 0]}, "axis": null}, "text": {"field": "t"}}},
    {"data": {"values": [{"t": "Feb. 2024. Rev. 0.6"}]}, "mark": {"type": "text", "fontWeight": "bold", "fontSize": 33, "align": "right", "baseline": "alphabetic", "dx": -214, "dy": 38},
     "encoding": {"x": {"datum": 1, "type": "quantitative", "scale": {"domain": [0, 1], "nice": false, "range": [-59.5, 2080]}, "axis": null},
                  "y": {"datum": 0, "type": "quantitative", "scale": {"domain": [0, 1], "nice": false, "range": [13.5, 0]}, "axis": null}, "text": {"field": "t"}}},
    {"data": {"values": [{"t": "3/6"}]}, "mark": {"type": "text", "fontWeight": "bold", "fontSize": 33, "align": "right", "baseline": "alphabetic", "dx": -42, "dy": 38},
     "encoding": {"x": {"datum": 1, "type": "quantitative", "scale": {"domain": [0, 1], "nice": false, "range": [-59.5, 2080]}, "axis": null},
                  "y": {"datum": 0, "type": "quantitative", "scale": {"domain": [0, 1], "nice": false, "range": [13.5, 0]}, "axis": null}, "text": {"field": "t"}}}
  ]
}
]
}
